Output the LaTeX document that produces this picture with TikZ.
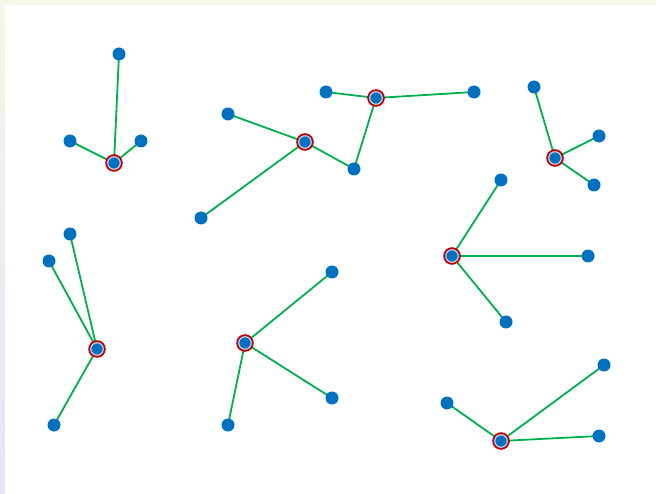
\documentclass[tikz,border=0pt]{standalone}
\usetikzlibrary{backgrounds}
\definecolor{dotblue}{HTML}{0070C0}
\definecolor{linkgreen}{HTML}{00B050}
\definecolor{hubred}{HTML}{C00000}
\definecolor{ringlight}{HTML}{B4D2EE}
\definecolor{frame}{HTML}{F6F6EA}
\definecolor{lavender}{HTML}{E4E4FA}
\begin{document}
\begin{tikzpicture}[
            x=1pt, y=-1pt,
            leaf/.style={circle,fill=dotblue,inner sep=0pt,minimum size=13pt},
            hub/.style={circle,fill=dotblue,draw=ringlight,line width=1.2pt,inner sep=0pt,minimum size=12.5pt,
                preaction={draw=hubred,line width=5pt}},
            link/.style={draw=linkgreen,line width=1.8pt}
        ]

        \useasboundingbox (0,0) rectangle (656,494);

        % hubs
        \node[hub] (h1) at (114,163) {};
        \node[hub] (h2) at (305,142) {};
        \node[hub] (h3) at (376,98) {};
        \node[hub] (h4) at (555,158) {};
        \node[hub] (h5) at (452,256) {};
        \node[hub] (h6) at (97,349) {};
        \node[hub] (h7) at (245,343) {};
        \node[hub] (h8) at (501,441) {};

        % leaves
        \node[leaf] (a1) at (119,54) {};
        \node[leaf] (a2) at (70,141) {};
        \node[leaf] (a3) at (141,141) {};
        \node[leaf] (b1) at (228,114) {};
        \node[leaf] (b2) at (201,218) {};
        \node[leaf] (b3) at (354,169) {};
        \node[leaf] (c1) at (326,92) {};
        \node[leaf] (c2) at (474,92) {};
        \node[leaf] (d1) at (534,87) {};
        \node[leaf] (d2) at (599,136) {};
        \node[leaf] (d3) at (594,185) {};
        \node[leaf] (e1) at (501,180) {};
        \node[leaf] (e2) at (588,256) {};
        \node[leaf] (e3) at (506,322) {};
        \node[leaf] (f1) at (70,234) {};
        \node[leaf] (f2) at (49,261) {};
        \node[leaf] (f3) at (54,425) {};
        \node[leaf] (g1) at (332,272) {};
        \node[leaf] (g2) at (228,425) {};
        \node[leaf] (g3) at (332,398) {};
        \node[leaf] (k1) at (447,403) {};
        \node[leaf] (k2) at (604,365) {};
        \node[leaf] (k3) at (599,436) {};

        \begin{scope}[on background layer]
            \fill[frame] (0,0) rectangle (656,494);
            \shade[top color=frame,bottom color=lavender] (0,5) rectangle (5,494);
            \fill[white] (5,5) rectangle (656,494);
            \path[link]
                (h1.center) -- (a1.center) (h1.center) -- (a2.center) (h1.center) -- (a3.center)
                (h2.center) -- (b1.center) (h2.center) -- (b2.center) (h2.center) -- (b3.center)
                (h3.center) -- (c1.center) (h3.center) -- (c2.center) (h3.center) -- (b3.center)
                (h4.center) -- (d1.center) (h4.center) -- (d2.center) (h4.center) -- (d3.center)
                (h5.center) -- (e1.center) (h5.center) -- (e2.center) (h5.center) -- (e3.center)
                (h6.center) -- (f1.center) (h6.center) -- (f2.center) (h6.center) -- (f3.center)
                (h7.center) -- (g1.center) (h7.center) -- (g2.center) (h7.center) -- (g3.center)
                (h8.center) -- (k1.center) (h8.center) -- (k2.center) (h8.center) -- (k3.center)
            ;
        \end{scope}

\end{tikzpicture}
\end{document}
